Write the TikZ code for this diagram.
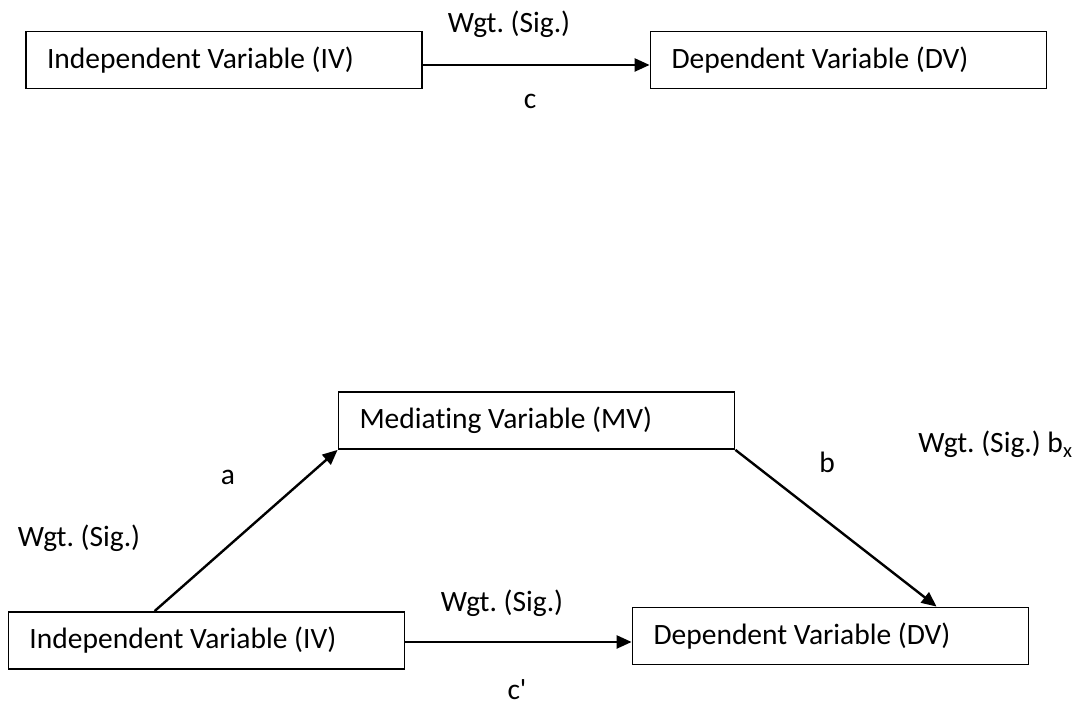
\documentclass[tikz,border=0pt]{standalone}
\usepackage{fontspec}
\setmainfont[Ligatures=NoCommon]{Carlito}
\frenchspacing
\usetikzlibrary{arrows.meta}
\tikzset {>={Triangle[length=7.5pt,width=6.5pt]}}
\tikzset{varbox/.style={draw,line width=0.9pt,text width=177pt,inner xsep=10.5pt,minimum height=28.5pt,align=flush left,font=\fontsize{14.75}{17}\selectfont},
  lbl/.style={inner sep=0pt,anchor=base,font=\fontsize{14.75}{17}\selectfont},
  path/.style={->,line width=1.2pt}}

\begin{document}
\begin{tikzpicture}[x=0.5pt,y=0.5pt]
\useasboundingbox (0,0) rectangle (1073,705);
% simple model
\node[varbox] (iv1) at (224,645) {Independent Variable (IV)};
\node[varbox] (dv1) at (848.5,645) {Dependent Variable (DV)};
\draw[path] ([yshift=-2.5pt]iv1.east) -- ([yshift=-2.5pt]dv1.west);
\node[lbl] (w1) at (509,672) {Wgt. (Sig.)};
\node[lbl] (c) at (530,596) {c};
% mediation model
\node[varbox] (iv2) at (206.5,64.5) {Independent Variable (IV)};
\node[varbox] (mv) at (536.5,284.5) {Mediating Variable (MV)};
\node[varbox] (dv2) at (830.5,69) {Dependent Variable (DV)};
\draw[path] ([xshift=73.5pt]iv2.north west) -- (mv.south west);
\draw[path] (mv.south east) -- ([xshift=152.5pt]dv2.north west);
\draw[path] ([yshift=-0.75pt]iv2.east) -- ([yshift=-0.75pt]iv2.east -| dv2.west);
\node[lbl] (a) at (228,220) {a};
\node[lbl] (wa) at (79,158) {Wgt. (Sig.)};
\node[lbl] (b) at (827,232) {b};
\node[lbl,anchor=base west] (wb) at (918,252) {Wgt. (Sig.) b\textsubscript{x}};
\node[lbl] (wc) at (502,93) {Wgt. (Sig.)};
\node[lbl] (cp) at (517,5) {c\textquotesingle};
\end{tikzpicture}
\end{document}
